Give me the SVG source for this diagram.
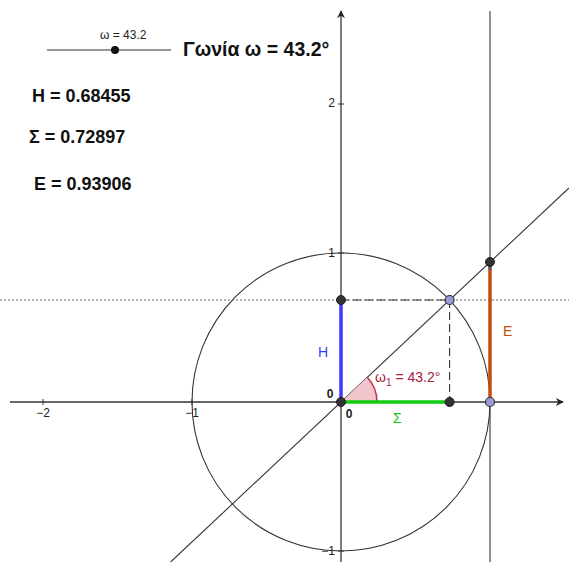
<svg xmlns="http://www.w3.org/2000/svg" width="569" height="562" viewBox="0 0 569 562">
<defs>
<style>
.ax{stroke:#333;stroke-width:1.3;fill:none}
.thin{stroke:#333;stroke-width:1.1;fill:none}
.tk{stroke:#333;stroke-width:1}
.lbl{font-family:"Liberation Sans",Arial,sans-serif;font-size:12px;fill:#222}
.big{font-family:"Liberation Sans",Arial,sans-serif;font-weight:bold;fill:#111}
.pd{fill:#333;stroke:#222;stroke-width:1}
.pl{fill:#9a9ad8;stroke:#333;stroke-width:1.2}
</style>
<marker id="arr" viewBox="0 0 10 10" refX="9" refY="5" markerWidth="8" markerHeight="8" orient="auto-start-reverse" markerUnits="userSpaceOnUse">
<path d="M0,0 L10,5 L0,10 L3,5 Z" fill="#222"/>
</marker>
</defs>
<rect width="569" height="562" fill="#fff"/>
<g id="connectors">
<line class="ax" x1="10" y1="402" x2="563" y2="402" marker-end="url(#arr)"/>
<line class="ax" x1="341" y1="562" x2="341" y2="11" marker-end="url(#arr)"/>
<g class="tk">
<line x1="43" y1="399" x2="43" y2="405"/>
<line x1="192" y1="399" x2="192" y2="405"/>
<line x1="490" y1="399" x2="490" y2="405"/>
<line x1="338" y1="104" x2="344" y2="104"/>
<line x1="338" y1="253" x2="344" y2="253"/>
<line x1="338" y1="551" x2="344" y2="551"/>
</g>
<circle class="thin" cx="341" cy="402" r="149"/>
<line class="thin" x1="490" y1="11" x2="490" y2="562"/>
<line class="thin" x1="170.6" y1="562" x2="569" y2="187.9"/>
<line x1="0" y1="300" x2="569" y2="300" stroke="#666" stroke-width="1" stroke-dasharray="2,2"/>
<line x1="341" y1="300" x2="449.6" y2="300" stroke="#333" stroke-width="1.1" stroke-dasharray="8,4"/>
<line x1="449.6" y1="300" x2="449.6" y2="402" stroke="#333" stroke-width="1.1" stroke-dasharray="8,4"/>
<path d="M341,402 L377,402 A36,36 0 0 0 367.25,377.35 Z" fill="#f2c4cc" stroke="none"/>
<path d="M377,402 A36,36 0 0 0 367.25,377.35" fill="none" stroke="#c0304c" stroke-width="1.5"/>
<line x1="341" y1="402" x2="341" y2="300" stroke="#3a3aff" stroke-width="3.5"/>
<line x1="341" y1="402" x2="449.6" y2="402" stroke="#11cc11" stroke-width="3.5"/>
<line x1="490" y1="402" x2="490" y2="270" stroke="#c84a10" stroke-width="3.5"/>
<line x1="490" y1="270" x2="490" y2="262" stroke="#555" stroke-width="3.5"/>
</g>
<g id="axis-labels" class="lbl">
<text x="43" y="417" text-anchor="middle">−2</text>
<text x="192" y="417" text-anchor="middle">−1</text>
<text x="335" y="107" text-anchor="end">2</text>
<text x="335" y="257" text-anchor="end">1</text>
<text x="335" y="555" text-anchor="end">−1</text>
<text x="330" y="398" text-anchor="middle" font-weight="bold">0</text>
<text x="349" y="418" text-anchor="middle" font-weight="bold">0</text>
</g>
<g id="node-O"><circle class="pd" cx="341" cy="402" r="4.5"/></g>
<g id="node-H"><circle class="pd" cx="341" cy="300" r="4.5"/></g>
<g id="node-P"><circle class="pl" cx="449.6" cy="300" r="4.5"/></g>
<g id="node-S"><circle class="pd" cx="449.6" cy="402" r="4.5"/></g>
<g id="node-A"><circle class="pl" cx="490" cy="402" r="4.5"/></g>
<g id="node-T"><circle class="pd" cx="490" cy="262" r="4.5"/></g>
<g id="segment-labels" font-family="Liberation Sans, Arial, sans-serif" font-size="14">
<text x="318" y="357" fill="#3a3aff">H</text>
<text x="393" y="423" fill="#11cc11">Σ</text>
<text x="503" y="336" fill="#c84a10">E</text>
<text x="375" y="382" fill="#a8203c">ω<tspan font-size="10" dy="4">1</tspan><tspan dy="-4"> = 43.2°</tspan></text>
</g>
<g id="slider">
<line x1="47" y1="50" x2="171" y2="50" stroke="#333" stroke-width="1.2"/>
<circle cx="115" cy="50" r="4" fill="#111"/>
<text x="100" y="39" class="lbl" font-size="13">ω = 43.2</text>
</g>
<g id="texts">
<text class="big" x="183" y="56" font-size="19.5">Γωνία ω = 43.2°</text>
<text class="big" x="32" y="102" font-size="18">H = 0.68455</text>
<text class="big" x="29" y="143" font-size="18">Σ = 0.72897</text>
<text class="big" x="34" y="190" font-size="18">E = 0.93906</text>
</g>
</svg>
